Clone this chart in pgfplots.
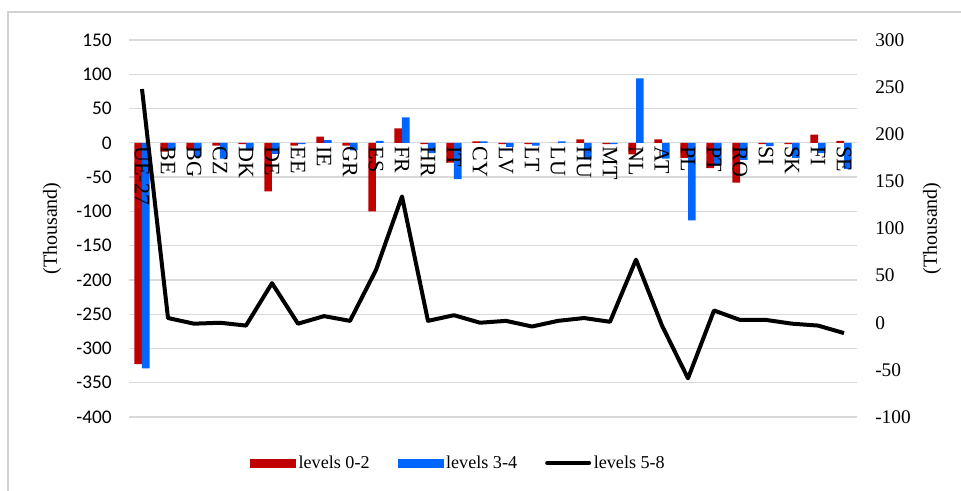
\documentclass[border=0pt]{standalone}
\usepackage{pgfplots}
\pgfplotsset{compat=1.18}
\usepackage{fontspec}
\setmainfont{Liberation Serif}
\newfontfamily\carlito{Carlito}
\definecolor{cred}{HTML}{C00000}
\definecolor{cblue}{HTML}{0066FF}
\definecolor{cgrid}{HTML}{D9D9D9}
\begin{document}
\begin{tikzpicture}
\useasboundingbox (-96.75pt,-55.5pt) rectangle (624pt,312.75pt);
\draw[color=gray!35, line width=1.1pt] (-90.75pt,-56pt) -- (-90.75pt,303.75pt) -- (625pt,303.75pt);
\begin{axis}[
  scale only axis, width=546pt, height=282.75pt,
  at={(0,0)}, anchor=south west,
  xmin=-0.5, xmax=27.5, ymin=-400, ymax=150,
  ytick={-400,-350,...,150},
  ymajorgrids, grid style={cgrid, line width=1pt},
  axis line style={draw=none}, major tick length=0pt,
  xtick=\empty,
  yticklabel style={font=\carlito\fontsize{14.5}{14.5}\selectfont, inner sep=0pt, anchor=east, xshift=-12.75pt},
  /pgf/number format/assume math mode=true,
  ylabel={(Thousand)},
  every axis y label/.style={at={(axis description cs:-0.1058,0.5)}, rotate=90, anchor=center, font=\fontsize{15}{15}\selectfont},
  ybar=0pt, bar width=0.29,
]
\addplot[fill=cred, draw=none] coordinates {
(0,-323) (1,-13) (2,-9) (3,-4) (4,-2) (5,-71) (6,-4) (7,9) (8,-4) (9,-100)
(10,21) (11,-2) (12,-29) (13,2) (14,-2) (15,-2) (16,0) (17,5) (18,-2) (19,-17)
(20,5) (21,-22) (22,-37) (23,-58) (24,-2) (25,-2) (26,12) (27,3)};
\addplot[fill=cblue, draw=none] coordinates {
(0,-329) (1,-11) (2,-20) (3,-23) (4,-11) (5,-16) (6,-2) (7,4) (8,-11) (9,3)
(10,37) (11,-15) (12,-53) (13,2) (14,-6) (15,-4) (16,2) (17,-24) (18,-2) (19,94)
(20,-23) (21,-113) (22,-33) (23,-25) (24,-5) (25,-22) (26,-15) (27,-38)};
\end{axis}
\begin{axis}[
  scale only axis, width=546pt, height=282.75pt,
  at={(0,0)}, anchor=south west,
  xmin=-0.5, xmax=27.5, ymin=-100, ymax=300,
  axis y line*=right,
  ytick={-100,-50,...,300},
  xtick={0,...,27},
  xticklabels={UE-27,BE,BG,CZ,DK,DE,EE,IE,GR,ES,FR,HR,IT,CY,LV,LT,LU,HU,MT,NL,AT,PL,PT,RO,SI,SK,FI,SE},
  xticklabel style={font=\fontsize{16.5}{16.5}\selectfont, rotate=-90, anchor=west, inner sep=0pt},
  xticklabel shift=-203pt,
  axis line style={draw=none}, major tick length=0pt,
  yticklabel style={font=\fontsize{14.5}{14.5}\selectfont, inner sep=0pt, anchor=west, xshift=13.5pt},
  /pgf/number format/assume math mode=true,
  ylabel={(Thousand)},
  every axis y label/.style={at={(axis description cs:1.103,0.5)}, rotate=90, anchor=center, font=\fontsize{15}{15}\selectfont},
  legend columns=3,
  legend style={at={(axis description cs:0.453,-0.122)}, anchor=center, draw=none, fill=none,
    font=\fontsize{13.6}{13.6}\selectfont,
    /tikz/every even column/.append style={column sep=19pt},
    nodes={inner xsep=2pt}},
]
\addlegendimage{legend image code/.code={\fill[cred] (0pt,-3pt) rectangle (34pt,3pt);}}
\addlegendentry{levels 0-2}
\addlegendimage{legend image code/.code={\fill[cblue] (0pt,-3pt) rectangle (34pt,3pt);}}
\addlegendentry{levels 3-4}
\addplot[black, line width=3pt, line join=round, mark=none,
  legend image code/.code={\draw[black, line width=3pt, line cap=round] (1.5pt,0pt) -- (33pt,0pt);}]
coordinates {
(0,248) (1,5) (2,-1) (3,0) (4,-3) (5,42) (6,-1) (7,7) (8,2) (9,56)
(10,134) (11,2) (12,8) (13,0) (14,2) (15,-4) (16,2) (17,5) (18,1) (19,67)
(20,-3) (21,-59) (22,13) (23,3) (24,3) (25,-1) (26,-3) (27,-11)};
\addlegendentry{levels 5-8}
\end{axis}
\end{tikzpicture}
\end{document}
